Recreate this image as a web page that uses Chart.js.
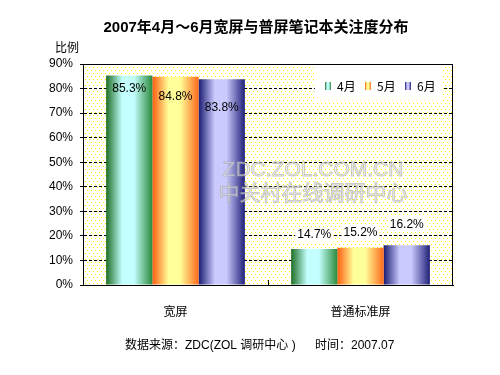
<!DOCTYPE html>
<html>
<head>
<meta charset="utf-8">
<script src="https://cdn.jsdelivr.net/npm/chart.js@4.4.1/dist/chart.umd.min.js"></script>
<style>
  html, body { margin: 0; padding: 0; background: #fff; }
  #wrap { width: 500px; height: 375px; }
</style>
</head>
<body>
<div id="wrap"><canvas id="c" width="500" height="375"></canvas></div>
<script>
// values
const categories = ["宽屏", "普通标准屏"];
const seriesNames = ["4月", "5月", "6月"];
const april = [85.3, 14.7];
const may = [84.8, 15.2];
const june = [83.8, 16.2];
const yMin = 0;
const yMax = 90;
const yStep = 10;

const FONT = "'Liberation Sans', Arial, 'Noto Sans CJK SC', sans-serif";
const CJK = "'Noto Sans CJK SC', 'Liberation Sans', sans-serif";

// edge / highlight colours of the cylinder-like gradients
const BAR_TONES = [
  { dark: "#1e6e24", light: "#c4ffff", right: "#2a8a3a" },
  { dark: "#ff5e10", light: "#ffff99", right: "#ff6a1a" },
  { dark: "#1a1a70", light: "#cacaff", right: "#202078" },
];

const CAT_PCT = 0.75;
// vertical shift of each value label from the top of its bar
const LABEL_SHIFT = [
  [13, -14],
  [20, -15],
  [28, -21],
];

function barGradient(ctx, left, width, tone) {
  const g = ctx.createLinearGradient(left, 0, left + width, 0);
  g.addColorStop(0, tone.dark);
  g.addColorStop(0.35, tone.light);
  g.addColorStop(0.6, tone.light);
  g.addColorStop(1, tone.right);
  return g;
}

function barFill(context) {
  const chart = context.chart;
  const tone = BAR_TONES[context.datasetIndex];
  const xs = chart.scales.x;
  if (!xs || !chart.chartArea || context.dataIndex === undefined) return tone.dark;
  const catW = xs.width / categories.length;
  const barW = (catW * CAT_PCT) / seriesNames.length;
  const center = xs.getPixelForValue(context.dataIndex);
  const left = center - (catW * CAT_PCT) / 2 + context.datasetIndex * barW;
  return barGradient(chart.ctx, left, barW, tone);
}

function makeDots(ctx) {
  const tile = document.createElement("canvas");
  tile.width = 4;
  tile.height = 6;
  const t = tile.getContext("2d");
  t.fillStyle = "#fff";
  t.fillRect(0, 0, 4, 6);
  t.fillStyle = "#ffff00";
  t.fillRect(1, 1, 1, 1);
  t.fillRect(3, 4, 1, 1);
  return ctx.createPattern(tile, "repeat");
}

const legendBox = { x: 315, y: 64, w: 127, h: 39 };

const decorPlugin = {
  id: "decor",
  beforeDraw(chart) {
    const { ctx, chartArea: a } = chart;
    ctx.save();
    ctx.fillStyle = "#fff";
    ctx.fillRect(0, 0, chart.width, chart.height);
    ctx.fillStyle = makeDots(ctx);
    ctx.fillRect(a.left, a.top, a.right - a.left, a.bottom - a.top);
    ctx.restore();
  },
  beforeDatasetsDraw(chart) {
    const { ctx, chartArea: a } = chart;
    ctx.save();
    // legend panel
    ctx.fillStyle = "#fff";
    ctx.fillRect(legendBox.x, legendBox.y, legendBox.w, legendBox.h);
    ctx.font = "12px " + CJK;
    ctx.textBaseline = "middle";
    ctx.textAlign = "left";
    seriesNames.forEach((name, i) => {
      const sx = 325 + i * 40;
      ctx.fillStyle = barGradient(ctx, sx, 6, BAR_TONES[i]);
      ctx.fillRect(sx, 82, 6, 8);
      ctx.fillStyle = "#000";
      ctx.fillText(name, sx + 12, 86);
    });
    // frame
    ctx.strokeStyle = "#000";
    ctx.lineWidth = 1;
    ctx.strokeRect(Math.round(a.left) + 0.5, Math.round(a.top) + 0.5,
      Math.round(a.right - a.left) - 1, Math.round(a.bottom - a.top));
    // category separators, inside
    const xs = chart.scales.x;
    const catW = xs.width / categories.length;
    for (let i = 1; i < categories.length; i++) {
      const px = Math.round(a.left + catW * i) + 0.5;
      ctx.beginPath();
      ctx.moveTo(px, a.bottom);
      ctx.lineTo(px, a.bottom - 5);
      ctx.stroke();
    }
    ctx.restore();
  },
  afterDatasetsDraw(chart) {
    const { ctx } = chart;
    ctx.save();
    // watermark
    ctx.textAlign = "center";
    ctx.textBaseline = "middle";
    ctx.lineWidth = 1;
    ctx.strokeStyle = "rgba(160,160,160,0.55)";
    ctx.fillStyle = "rgba(240,240,240,0.55)";
    ctx.font = "21px " + FONT;
    ctx.fillText("ZDC.ZOL.COM.CN", 313, 170);
    ctx.strokeText("ZDC.ZOL.COM.CN", 313, 170);
    ctx.font = "21px " + CJK;
    ctx.fillText("中关村在线调研中心", 313, 192);
    ctx.strokeText("中关村在线调研中心", 313, 192);

    // value labels
    ctx.font = "12px " + FONT;
    chart.data.datasets.forEach((ds, di) => {
      const meta = chart.getDatasetMeta(di);
      meta.data.forEach((el, i) => {
        const txt = ds.data[i].toFixed(1) + "%";
        const y = el.y + LABEL_SHIFT[di][i];
        if (LABEL_SHIFT[di][i] < 0) {
          const w = ctx.measureText(txt).width + 4;
          ctx.fillStyle = "#fff";
          ctx.fillRect(el.x - w / 2, y - 7, w, 14);
        }
        ctx.fillStyle = "#000";
        ctx.fillText(txt, el.x, y);
      });
    });
    ctx.restore();
  },
  afterDraw(chart) {
    const { ctx } = chart;
    ctx.save();
    ctx.fillStyle = "#000";
    ctx.textBaseline = "middle";
    ctx.textAlign = "center";
    ctx.font = "bold 15px " + FONT;
    ctx.fillText("2007年4月～6月宽屏与普屏笔记本关注度分布", 256, 28);
    ctx.textAlign = "left";
    ctx.font = "12px " + CJK;
    ctx.fillText("比例", 55, 47);
    ctx.font = "12px " + FONT;
    ctx.fillText("数据来源：ZDC(ZOL 调研中心 )", 125, 346);
    ctx.fillText("时间：2007.07", 315, 346);
    ctx.restore();
  },
};

const datasets = [april, may, june].map((vals, i) => ({
  label: seriesNames[i],
  data: vals,
  backgroundColor: barFill,
  borderWidth: 0,
  categoryPercentage: CAT_PCT,
  barPercentage: 1,
}));

new Chart(document.getElementById("c"), {
  type: "bar",
  data: { labels: categories, datasets },
  options: {
    responsive: false,
    animation: false,
    events: [],
    layout: { padding: { top: 64, right: 47, bottom: 0, left: 0 } },
    plugins: {
      legend: { display: false },
      title: { display: false },
      tooltip: { enabled: false },
    },
    scales: {
      x: {
        afterFit(scale) { scale.height = 90; },
        grid: { display: false },
        border: { display: true, color: "#000", width: 1 },
        ticks: {
          color: "#000",
          padding: 11,
          font: { family: CJK, size: 12 },
        },
      },
      y: {
        min: yMin,
        max: yMax,
        afterFit(scale) { scale.width = 83; },
        ticks: {
          stepSize: yStep,
          color: "#000",
          padding: 7,
          font: { family: FONT, size: 12 },
          callback: (v) => v + "%",
        },
        grid: {
          color: "#000",
          lineWidth: 1,
          tickLength: 3,
          tickColor: "#000",
          tickBorderDash: [],
        },
        border: { display: true, color: "#000", width: 1, dash: [3, 2] },
      },
    },
  },
  plugins: [decorPlugin],
});
</script>
</body>
</html>
